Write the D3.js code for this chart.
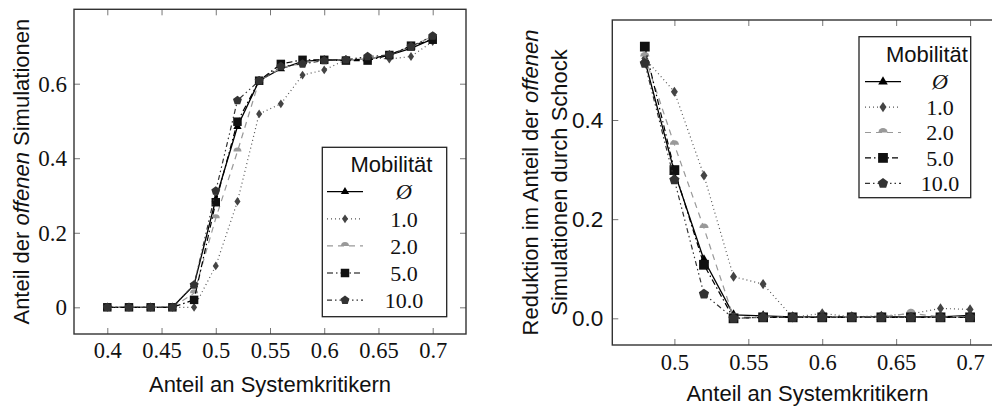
<!DOCTYPE html>
<html>
<head>
<meta charset="utf-8">
<script src="https://d3js.org/d3.v7.min.js"></script>
<style>
  body { margin: 0; background: #fff; }
  svg { display: block; }
  .tick line { stroke: #777; stroke-width: 1; }
  .tick text { fill: #111; }
</style>
</head>
<body>
<div id="chart"></div>
<script>
// shared values
const xLeft = [0.40, 0.42, 0.44, 0.46, 0.48, 0.50, 0.52, 0.54, 0.56, 0.58, 0.60, 0.62, 0.64, 0.66, 0.68, 0.70];
const xRight = [0.48, 0.50, 0.52, 0.54, 0.56, 0.58, 0.60, 0.62, 0.64, 0.66, 0.68, 0.70];
const seriesLabels = ["Ø", "1.0", "2.0", "5.0", "10.0"];
const legendTitle = "Mobilität";

// left: Anteil der offenen Simulationen
const leftNone = [0, 0, 0, 0, 0.06, 0.29, 0.485, 0.608, 0.64, 0.66, 0.664, 0.664, 0.666, 0.677, 0.695, 0.72];
const left1 = [0, 0, 0, 0, 0, 0.111, 0.284, 0.519, 0.546, 0.623, 0.637, 0.664, 0.671, 0.666, 0.673, 0.713];
const left2 = [0, 0, 0, 0, 0.038, 0.239, 0.418, 0.608, 0.642, 0.655, 0.664, 0.664, 0.666, 0.677, 0.70, 0.727];
const left5 = [0, 0, 0, 0, 0.02, 0.282, 0.498, 0.608, 0.653, 0.664, 0.664, 0.662, 0.662, 0.677, 0.702, 0.718];
const left10 = [0, 0, 0, 0, 0.06, 0.312, 0.555, 0.608, 0.646, 0.653, 0.662, 0.664, 0.673, 0.677, 0.70, 0.728];

// right: Reduktion durch Schock
const rightNone = [0.52, 0.295, 0.118, 0.007, 0.005, 0.003, 0.003, 0.003, 0.003, 0.003, 0.003, 0.006];
const right1 = [0.524, 0.457, 0.288, 0.084, 0.069, 0.002, 0.01, 0.003, 0.005, 0.009, 0.02, 0.018];
const right2 = [0.528, 0.35, 0.182, 0.002, 0.003, 0.002, 0.003, 0.003, 0.003, 0.01, 0.003, 0.003];
const right5 = [0.548, 0.299, 0.108, 0, 0.002, 0.002, 0.002, 0.002, 0.002, 0.002, 0.002, 0.002];
const right10 = [0.514, 0.279, 0.049, 0, 0.002, 0.002, 0.002, 0.002, 0.002, 0.002, 0.002, 0.002];

const leftXTicks = [0.4, 0.45, 0.5, 0.55, 0.6, 0.65, 0.7];
const leftXTickLabels = ["0.4", "0.45", "0.5", "0.55", "0.6", "0.65", "0.7"];
const leftYTicks = [0, 0.2, 0.4, 0.6];
const leftYTickLabels = ["0", "0.2", "0.4", "0.6"];
const rightXTicks = [0.5, 0.55, 0.6, 0.65, 0.7];
const rightXTickLabels = ["0.5", "0.55", "0.6", "0.65", "0.7"];
const rightYTicks = [0, 0.2, 0.4];
const rightYTickLabels = ["0.0", "0.2", "0.4"];

const SERIF = "'Liberation Serif', 'DejaVu Serif', serif";
const SANS = "'Liberation Sans', Arial, sans-serif";

// marker paths centred on 0,0
const marks = {
  triangle: s => `M0,${-s * 0.6}L${s * 0.52},${s * 0.3}L${-s * 0.52},${s * 0.3}Z`,
  diamond: s => `M0,${-s * 0.55}L${s * 0.38},0L0,${s * 0.55}L${-s * 0.38},0Z`,
  square: s => `M${-s / 2},${-s / 2}h${s}v${s}h${-s}Z`,
  pentagon: s => {
    const r = s * 0.55;
    return d3.range(5).map((i, k) => {
      const a = -Math.PI / 2 + i * 2 * Math.PI / 5;
      return (k ? "L" : "M") + (r * Math.cos(a)) + "," + (r * Math.sin(a));
    }).join("") + "Z";
  },
  halfcircle: s => { const r = s * 0.5; return `M${-r},0A${r},${r} 0 0 1 ${r},0Z`; }
};

const styles = [
  { mark: "triangle", size: 8, line: "#000", fill: "#000", dash: null, w: 1.3 },
  { mark: "diamond", size: 8, line: "#555", fill: "#444", dash: "1,3", w: 1.2 },
  { mark: "halfcircle", size: 8, line: "#999", fill: "#999", dash: "6,5", w: 1.2 },
  { mark: "square", size: 8.5, line: "#000", fill: "#111", dash: "6,3,1.5,3", w: 1.2 },
  { mark: "pentagon", size: 8.5, line: "#333", fill: "#333", dash: "5,3,1.5,3,1.5,3", w: 1.2 }
];

const svg = d3.select("#chart").append("svg")
  .attr("width", 992).attr("height", 408);

function panel(cfg) {
  const g = svg.append("g");
  const x = d3.scaleLinear().domain(cfg.xDomain).range([cfg.left, cfg.right]);
  const y = d3.scaleLinear().domain(cfg.yDomain).range([cfg.bottom, cfg.top]);

  // axes (ticks inward on all sides)
  const bottom = g.append("g").attr("transform", `translate(0,${cfg.bottom})`)
    .call(d3.axisBottom(x).tickValues(cfg.xTicks).tickSize(-6).tickPadding(cfg.xPad)
      .tickFormat((d, i) => cfg.xLabels[i]));
  bottom.selectAll("text").style("font-family", SERIF).style("font-size", "22.5px");
  g.append("g").attr("transform", `translate(0,${cfg.top})`)
    .call(d3.axisTop(x).tickValues(cfg.xTicks).tickSize(-6).tickFormat(""));
  const leftAx = g.append("g").attr("transform", `translate(${cfg.left},0)`)
    .call(d3.axisLeft(y).tickValues(cfg.yTicks).tickSize(-6).tickPadding(cfg.yPad)
      .tickFormat((d, i) => cfg.yLabels[i]));
  leftAx.selectAll("text").style("font-family", cfg.yFont).style("font-size", cfg.yFontSize);
  g.append("g").attr("transform", `translate(${cfg.right},0)`)
    .call(d3.axisRight(y).tickValues(cfg.yTicks).tickSize(-6).tickFormat(""));
  g.selectAll(".domain").remove();

  g.append("rect")
    .attr("x", cfg.left).attr("y", cfg.top)
    .attr("width", cfg.right - cfg.left).attr("height", cfg.bottom - cfg.top)
    .attr("fill", "none").attr("stroke", "#333").attr("stroke-width", 1.4);

  // series
  const line = d3.line().x(d => x(d[0])).y(d => y(d[1]));
  cfg.series.forEach((vals, si) => {
    const st = styles[si];
    const pts = cfg.xs.map((xv, i) => [xv, vals[i]]);
    g.append("path").datum(pts)
      .attr("d", line).attr("fill", "none")
      .attr("stroke", st.line).attr("stroke-width", st.w)
      .attr("stroke-dasharray", st.dash);
    g.selectAll(null).data(pts).enter().append("path")
      .attr("transform", d => `translate(${x(d[0])},${y(d[1])})`)
      .attr("d", marks[st.mark](st.size * cfg.markScale))
      .attr("fill", st.fill);
  });

  // axis titles
  g.append("text")
    .attr("x", (cfg.left + cfg.right) / 2).attr("y", cfg.xTitleY)
    .attr("text-anchor", "middle")
    .style("font-family", SANS).style("font-size", "22px").attr("fill", "#111")
    .text("Anteil an Systemkritikern");

  const cy = (cfg.top + cfg.bottom) / 2;
  cfg.yTitle.forEach((parts, li) => {
    const t = g.append("text")
      .attr("transform", `translate(${cfg.yTitleX[li]},${cy}) rotate(-90)`)
      .attr("text-anchor", "middle")
      .style("font-family", SANS).style("font-size", "22px").attr("fill", "#111");
    parts.forEach(p => t.append("tspan").style("font-style", p.it ? "italic" : "normal").text(p.t));
  });

  // legend
  const L = cfg.legend;
  const lg = g.append("g");
  lg.append("rect").attr("x", L.x).attr("y", L.y).attr("width", L.w).attr("height", L.h)
    .attr("fill", "#fff").attr("stroke", "#222").attr("stroke-width", 1.3);
  lg.append("text").attr("x", L.titleX).attr("y", L.titleY)
    .attr("text-anchor", "middle")
    .style("font-family", SANS).style("font-size", "22px").attr("fill", "#111")
    .text(legendTitle);
  seriesLabels.forEach((lab, i) => {
    const st = styles[i];
    const ry = L.row0 + i * L.dy;
    lg.append("line").attr("x1", L.x0).attr("x2", L.x1).attr("y1", ry).attr("y2", ry)
      .attr("stroke", st.line).attr("stroke-width", st.w).attr("stroke-dasharray", st.dash);
    lg.append("path").attr("transform", `translate(${(L.x0 + L.x1) / 2},${ry})`)
      .attr("d", marks[st.mark](st.size * cfg.markScale)).attr("fill", st.fill);
    lg.append("text").attr("x", L.labelX).attr("y", ry).attr("dy", "0.35em")
      .attr("text-anchor", "middle")
      .style("font-family", SERIF).style("font-size", "22px")
      .style("font-style", i === 0 ? "italic" : "normal").attr("fill", "#111")
      .text(lab);
  });
}

panel({
  left: 74, right: 466, top: 9.3, bottom: 334,
  xDomain: [0.3693, 0.7307], yDomain: [-0.0716, 0.7996],
  xTicks: leftXTicks, xLabels: leftXTickLabels, xPad: 8,
  yTicks: leftYTicks, yLabels: leftYTickLabels, yPad: 7,
  yFont: SERIF, yFontSize: "23px",
  xs: xLeft, series: [leftNone, left1, left2, left5, left10], markScale: 1,
  xTitleY: 391.5,
  yTitle: [[{ t: "Anteil der " }, { t: "offenen", it: true }, { t: " Simulationen" }]],
  yTitleX: [29],
  legend: { x: 322.3, y: 147.3, w: 124.4, h: 169.4, titleX: 391.5, titleY: 171.5,
            row0: 191.7, dy: 27.1, x0: 327, x1: 363, labelX: 404 }
});

panel({
  left: 612.3, right: 1002.6, top: 20, bottom: 345,
  xDomain: [0.458, 0.722], yDomain: [-0.0538, 0.6017],
  xTicks: rightXTicks, xLabels: rightXTickLabels, xPad: 9,
  yTicks: rightYTicks, yLabels: rightYTickLabels, yPad: 9,
  yFont: SANS, yFontSize: "22.5px",
  xs: xRight, series: [rightNone, right1, right2, right5, right10], markScale: 1.15,
  xTitleY: 401,
  yTitle: [[{ t: "Reduktion im Anteil der " }, { t: "offenen", it: true }],
           [{ t: "Simulationen durch Schock" }]],
  yTitleX: [538, 567],
  legend: { x: 859, y: 36.7, w: 111.7, h: 161, titleX: 927, titleY: 61.5,
            row0: 81.7, dy: 25.4, x0: 865, x1: 901, labelX: 940 }
});
</script>
</body>
</html>
